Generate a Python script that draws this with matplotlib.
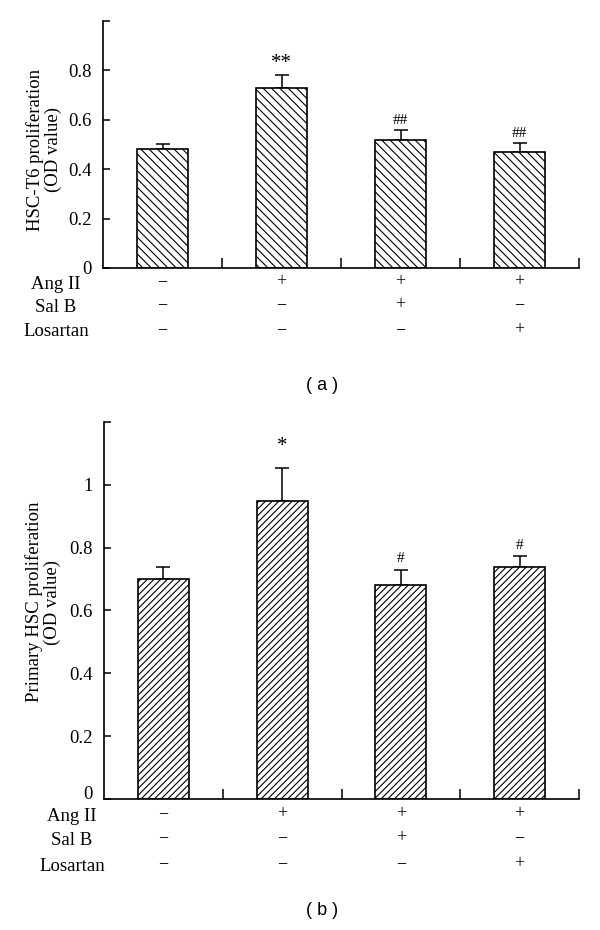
import matplotlib
matplotlib.use("Agg")
import matplotlib.pyplot as plt
from matplotlib import transforms

plt.rcParams['font.family'] = ['Liberation Serif', 'DejaVu Serif']
plt.rcParams['hatch.linewidth'] = 0.8

# data
groups = [0, 1, 2, 3]
ang_ii = ['−', '+', '+', '+']
sal_b = ['−', '−', '+', '−']
losartan = ['−', '−', '−', '+']
row_names = ['Ang II', 'Sal B', 'Losartan']

hsc_t6 = [0.48, 0.73, 0.52, 0.47]
hsc_t6_err = [0.02, 0.05, 0.04, 0.035]
hsc_t6_marks = ['', '**', '##', '##']

primary = [0.70, 0.95, 0.68, 0.74]
primary_err = [0.04, 0.105, 0.05, 0.033]
primary_marks = ['', '*', '#', '#']

W, H = 600, 930
fig = plt.figure(figsize=(W / 100, H / 100), dpi=100)


def panel(rect, vals, errs, marks, hatch, ymax, yticks, ytlabels, ylabel,
          ylab_xy, row_y, row_x, letter, letter_y, mark_off, zero_lift):
    ax = fig.add_axes(rect)
    ax.bar(groups, vals, width=0.43, color='white', edgecolor='black',
           linewidth=1.2, hatch=hatch, zorder=2)
    ax.errorbar(groups, vals, yerr=[[0] * 4, errs], fmt='none', ecolor='black',
                elinewidth=1.1, capsize=5, capthick=1.1, zorder=1)
    for g, v, e, m, off in zip(groups, vals, errs, marks, mark_off):
        if m:
            ax.annotate(m, (g, v + e), xytext=(0, off), textcoords='offset points',
                        ha='center', va='bottom',
                        fontsize=15 if '*' in m else 11)
    ax.set_xlim(-0.5, 3.5)
    ax.set_ylim(0, ymax)
    for s in ['top', 'right']:
        ax.spines[s].set_visible(False)
    ax.spines['left'].set_linewidth(1.2)
    ax.spines['bottom'].set_linewidth(1.2)
    ax.set_yticks(yticks)
    ax.set_yticklabels(ytlabels, fontsize=13.5)
    ax.tick_params(axis='y', direction='in', length=5, width=1.1, pad=8)
    ax.set_xticks([0.5, 1.5, 2.5, 3.5])
    ax.set_xticklabels([])
    ax.tick_params(axis='x', direction='in', length=7, width=1.1)

    # the "0" sits a little above the axis line in the original
    zero = ax.get_yticklabels()[0]
    zero.set_transform(zero.get_transform() +
                       transforms.ScaledTranslation(0, zero_lift / 72, fig.dpi_scale_trans))

    fig.text(ylab_xy[0] / W, 1 - ylab_xy[1] / H, ylabel, rotation=90,
             ha='center', va='center', multialignment='center', fontsize=13.5,
             linespacing=1.1)

    tr = transforms.blended_transform_factory(ax.transData, fig.transFigure)
    for signs, name, y in zip([ang_ii, sal_b, losartan], row_names, row_y):
        fig.text(row_x / W, 1 - y / H, name, ha='center', va='center', fontsize=13.5)
        for g, s in zip(groups, signs):
            ax.text(g, 1 - (y - 2) / H, s, transform=tr, ha='center', va='center',
                    fontsize=13)

    fig.text(322 / W, 1 - letter_y / H, letter, ha='center', va='center',
             fontsize=13, family=['Liberation Sans', 'DejaVu Sans'])
    return ax


panel([103 / W, 1 - 268 / H, 476 / W, 247 / H], hsc_t6, hsc_t6_err, hsc_t6_marks,
      '\\\\\\\\', 1.0, [0, 0.2, 0.4, 0.6, 0.8, 1.0],
      ['0', '0.2', '0.4', '0.6', '0.8', ''],
      'HSC-T6 proliferation\n(OD value)', (44, 150), [284, 307, 332], 56,
      '( a )', 385, [2, 2, 2, 2], 0)

panel([104 / W, 1 - 799 / H, 475 / W, 377 / H], primary, primary_err, primary_marks,
      '/////', 1.2, [0, 0.2, 0.4, 0.6, 0.8, 1.0, 1.2],
      ['0', '0.2', '0.4', '0.6', '0.8', '1', ''],
      'Primary HSC proliferation\n(OD value)', (43, 602), [816, 840, 866], 72,
      '( b )', 910, [8, 8, 3, 3], 5)

fig.savefig('out.png', dpi=100)
